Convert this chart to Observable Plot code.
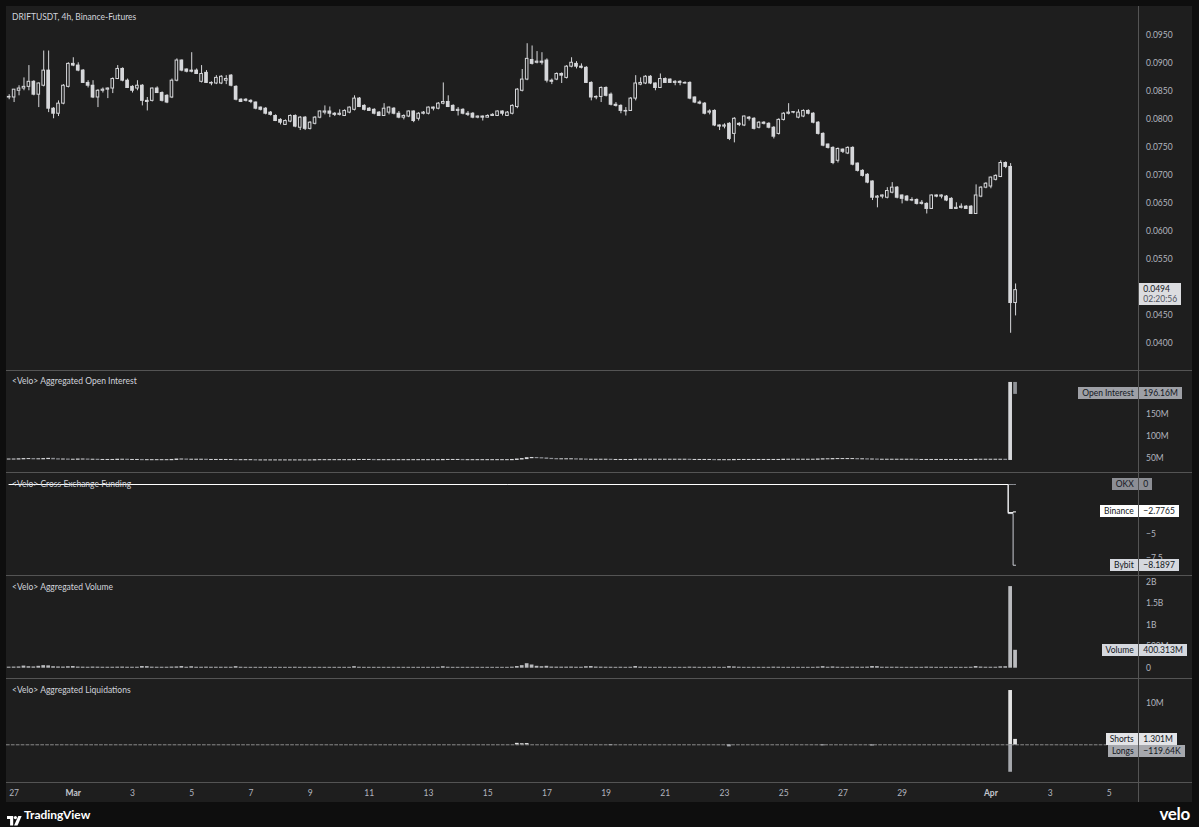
<!DOCTYPE html>
<html>
<head>
<meta charset="utf-8">
<script src="https://cdn.jsdelivr.net/npm/d3@7"></script>
<script src="https://cdn.jsdelivr.net/npm/@observablehq/plot@0.6"></script>
<style>
  html,body{margin:0;padding:0;}
  body{width:1199px;height:827px;background:#0e0e0e;position:relative;overflow:hidden;font-family:Lato,"Noto Sans",sans-serif;}
  .abs{position:absolute;}
  #frame{left:6px;top:6px;width:1186px;height:796px;background:#1e1e1e;}
  .sep{left:6px;width:1186px;height:1px;background:#545454;}
  .vsep{left:1138px;top:6px;width:1px;height:796px;background:#545454;}
  .title{color:#d1d4dc;font-size:8.5px;left:12px;white-space:nowrap;line-height:10px;}
  .lbl{font-size:8.5px;line-height:12px;height:12px;padding:0 4px;color:#131722;white-space:nowrap;box-sizing:border-box;}
  .panel{left:6px;}
  .panel svg{overflow:visible;display:block;}
</style>
</head>
<body>
<div id="frame" class="abs"></div>
<script>
// ---------------- DATA ----------------
const firstCandle = "2025-02-26T20:00:00Z";
const lastCandle = "2025-04-01T20:00:00Z";

const open = [
.0838,.0838,.0850,.0854,.0857,.0866,.0843,.0859,.0886,.0818,
.0809,.0827,.0857,.0898,.0895,.0886,.0864,.0859,.0838,.0850,
.0852,.0854,.0871,.0889,.0868,.0857,.0854,.0859,.0832,.0832,
.0854,.0846,.0841,.0838,.0868,.0904,.0888,.0886,.0886,.0866,
.0882,.0864,.0863,.0863,.0868,.0877,.0857,.0834,.0834,.0832,
.0829,.0820,.0818,.0811,.0805,.0798,.0789,.0795,.0805,.0784,
.0802,.0782,.0791,.0802,.0811,.0813,.0809,.0807,.0805,.0811,
.0816,.0836,.0823,.0818,.0816,.0811,.0805,.0811,.0818,.0809,
.0802,.0804,.0813,.0800,.0809,.0809,.0820,.0818,.0827,.0830,
.0823,.0814,.0816,.0809,.0809,.0802,.0804,.0802,.0805,.0805,
.0813,.0805,.0809,.0821,.0850,.0870,.0905,.0900,.0902,.0904,
.0868,.0870,.0880,.0873,.0893,.0898,.0893,.0891,.0864,.0838,
.0839,.0855,.0843,.0825,.0823,.0814,.0814,.0836,.0861,.0863,
.0875,.0863,.0855,.0871,.0870,.0864,.0866,.0864,.0864,.0838,
.0829,.0827,.0811,.0814,.0788,.0786,.0791,.0773,.0791,.0788,
.0802,.0800,.0784,.0793,.0791,.0784,.0773,.0798,.0809,.0811,
.0802,.0804,.0814,.0809,.0793,.0773,.0754,.0748,.0725,.0745,
.0738,.0748,.0720,.0707,.0700,.0688,.0659,.0661,.0659,.0668,
.0677,.0663,.0661,.0654,.0655,.0648,.0648,.0639,.0663,.0661,
.0661,.0657,.0639,.0641,.0643,.0643,.0630,.0661,.0677,.0679,
.0691,.0696,.0721,.0714,.0471];

const high = [
.0843,.0852,.0859,.0873,.0895,.0868,.0864,.0921,.0921,.0820,
.0832,.0861,.0900,.0909,.0900,.0888,.0868,.0868,.0852,.0855,
.0855,.0873,.0895,.0891,.0871,.0859,.0868,.0861,.0838,.0855,
.0857,.0848,.0843,.0871,.0907,.0905,.0889,.0918,.0889,.0895,
.0886,.0866,.0877,.0877,.0877,.0879,.0859,.0836,.0836,.0834,
.0830,.0821,.0820,.0813,.0807,.0800,.0798,.0807,.0807,.0804,
.0804,.0795,.0804,.0814,.0823,.0821,.0811,.0816,.0816,.0821,
.0841,.0838,.0825,.0820,.0818,.0813,.0827,.0821,.0820,.0813,
.0807,.0814,.0814,.0811,.0813,.0821,.0821,.0829,.0864,.0841,
.0825,.0820,.0818,.0813,.0811,.0805,.0805,.0807,.0809,.0814,
.0814,.0813,.0825,.0854,.0888,.0934,.0930,.0920,.0918,.0907,
.0871,.0882,.0882,.0895,.0909,.0902,.0898,.0893,.0866,.0841,
.0857,.0857,.0846,.0829,.0825,.0820,.0838,.0877,.0873,.0877,
.0877,.0864,.0880,.0873,.0871,.0868,.0868,.0866,.0866,.0839,
.0832,.0829,.0816,.0816,.0789,.0791,.0793,.0802,.0793,.0805,
.0804,.0802,.0795,.0795,.0793,.0786,.0800,.0811,.0827,.0813,
.0816,.0816,.0816,.0811,.0795,.0775,.0755,.0750,.0748,.0746,
.0750,.0750,.0721,.0709,.0702,.0689,.0663,.0664,.0677,.0686,
.0679,.0664,.0663,.0659,.0657,.0654,.0650,.0664,.0664,.0664,
.0663,.0659,.0650,.0648,.0645,.0645,.0682,.0679,.0686,.0696,
.0700,.0725,.0723,.0720,.0505];

const low = [
.0834,.0829,.0841,.0850,.0850,.0841,.0820,.0857,.0811,.0800,
.0804,.0825,.0855,.0893,.0884,.0863,.0855,.0836,.0820,.0846,
.0836,.0845,.0870,.0866,.0854,.0846,.0850,.0823,.0814,.0830,
.0845,.0830,.0827,.0836,.0866,.0884,.0882,.0882,.0879,.0864,
.0863,.0859,.0861,.0861,.0861,.0857,.0832,.0829,.0830,.0827,
.0816,.0814,.0807,.0805,.0795,.0789,.0788,.0793,.0784,.0779,
.0779,.0780,.0789,.0800,.0807,.0802,.0804,.0805,.0804,.0809,
.0814,.0820,.0814,.0813,.0807,.0804,.0804,.0807,.0807,.0800,
.0798,.0802,.0793,.0796,.0807,.0807,.0814,.0816,.0825,.0820,
.0813,.0805,.0807,.0804,.0800,.0800,.0796,.0802,.0804,.0804,
.0805,.0804,.0807,.0818,.0848,.0868,.0896,.0898,.0896,.0864,
.0861,.0868,.0863,.0871,.0891,.0889,.0889,.0863,.0832,.0834,
.0829,.0839,.0823,.0821,.0809,.0805,.0813,.0832,.0859,.0861,
.0861,.0850,.0854,.0863,.0863,.0859,.0859,.0862,.0834,.0827,
.0825,.0807,.0807,.0786,.0779,.0782,.0761,.0757,.0786,.0786,
.0796,.0780,.0782,.0789,.0782,.0764,.0771,.0796,.0807,.0809,
.0800,.0802,.0807,.0791,.0771,.0750,.0746,.0718,.0721,.0738,
.0736,.0716,.0705,.0696,.0684,.0654,.0641,.0657,.0657,.0666,
.0657,.0648,.0652,.0652,.0646,.0646,.0630,.0638,.0659,.0657,
.0652,.0638,.0638,.0639,.0638,.0629,.0629,.0659,.0675,.0675,
.0689,.0695,.0711,.0417,.0448];

const close = [
.0839,.0852,.0854,.0857,.0866,.0843,.0863,.0886,.0818,.0809,
.0827,.0859,.0898,.0895,.0886,.0864,.0859,.0838,.0850,.0852,
.0854,.0871,.0889,.0868,.0855,.0850,.0859,.0832,.0830,.0854,
.0846,.0832,.0829,.0868,.0904,.0886,.0884,.0884,.0880,.0880,
.0864,.0863,.0873,.0875,.0871,.0859,.0834,.0830,.0832,.0830,
.0818,.0816,.0809,.0807,.0796,.0793,.0796,.0805,.0786,.0802,
.0782,.0793,.0802,.0813,.0813,.0809,.0807,.0809,.0814,.0820,
.0836,.0821,.0816,.0814,.0809,.0805,.0818,.0820,.0809,.0802,
.0805,.0813,.0796,.0809,.0811,.0820,.0818,.0827,.0830,.0821,
.0814,.0816,.0809,.0807,.0802,.0804,.0802,.0805,.0807,.0813,
.0809,.0811,.0823,.0852,.0870,.0907,.0898,.0902,.0900,.0868,
.0866,.0880,.0877,.0893,.0900,.0893,.0891,.0864,.0838,.0839,
.0855,.0841,.0825,.0823,.0814,.0813,.0836,.0863,.0864,.0875,
.0863,.0855,.0871,.0864,.0864,.0866,.0864,.0863,.0836,.0829,
.0827,.0809,.0813,.0788,.0786,.0788,.0764,.0800,.0789,.0804,
.0800,.0782,.0793,.0791,.0784,.0768,.0798,.0809,.0811,.0812,
.0811,.0814,.0809,.0793,.0773,.0752,.0748,.0721,.0746,.0741,
.0748,.0718,.0707,.0698,.0686,.0659,.0661,.0663,.0671,.0677,
.0659,.0657,.0654,.0655,.0648,.0650,.0639,.0663,.0661,.0663,
.0654,.0639,.0641,.0643,.0639,.0630,.0663,.0677,.0684,.0695,
.0698,.0721,.0714,.0471,.0494];

// Aggregated open interest per candle (millions USD)
const openInterest = [
47,47,47.5,48,48,47.5,47.5,48,48.5,47.5,
47,47,46.5,46.5,47,47,46.5,46.5,46,46,
46,46,46.5,46.5,46,46,46,45.5,45.5,45.5,
45.5,45.5,45.5,46,47,47,46.5,46.5,46.5,46.5,
46,46,46,46,46,46,45.5,45.5,45.5,45.5,
45,45,45,45,45,45,45,45,45,45,
45,45,45.5,45.5,45.5,45.5,45.5,45.5,45.5,45.5,
46,46,46,46,45.5,45.5,45.5,45.5,45.5,45.5,
45.5,45.5,45.5,45.5,45.5,45.5,45.5,45.5,46,46,
46,46,45.5,45.5,45.5,45.5,45.5,45.5,45.5,45.5,
45.5,45.5,46,47,48,50,50.5,50,49.5,48.5,
48,47.5,47.5,47.5,47.5,47,47,46.5,46.5,46.5,
46.5,46.5,46,46,46,46,46,46.5,46.5,46.5,
46.5,46.5,46.5,46.5,46.5,46.5,46.5,46.5,46,46,
46,46,46,45.5,45.5,45.5,45.5,46,46,46,
46,46,46,46,46,46,46,46.5,46.5,46.5,
46.5,46.5,46.5,46.5,47,47.5,47.5,48,48,48,
48,48,47.5,47.5,47,47,46.5,46.5,46.5,46.5,
46.5,46.5,46.5,46.5,46,46,46,46,46,46,
46,46,46,46,46,46,46.5,46.5,46.5,46.5,
46.5,46.5,46,221,196.16];

// Aggregated volume per candle (millions USD)
const volume = [
10,12,15,35,20,15,30,45,40,20,
15,12,20,25,12,10,8,12,10,8,
8,8,10,12,8,8,8,25,22,10,
8,8,8,12,15,25,8,20,8,8,
10,8,8,8,8,8,22,8,6,6,
6,6,6,6,6,6,6,6,8,6,
6,6,6,6,6,6,6,6,6,6,
22,8,6,6,6,6,6,6,6,6,
6,6,6,6,6,6,6,6,20,8,
6,6,6,6,6,6,6,6,6,6,
6,6,10,25,45,90,60,30,20,30,
12,10,10,10,12,8,8,20,25,12,
10,8,8,6,8,6,8,25,10,8,
6,6,8,6,6,6,6,6,10,8,
6,6,6,10,6,6,22,15,8,6,
6,6,6,6,6,10,8,6,6,6,
6,6,6,6,10,22,8,15,8,6,
6,10,8,8,10,25,22,8,8,8,
8,6,6,6,6,6,10,8,6,6,
6,6,6,6,6,8,25,12,8,8,
8,18,20,1875,400.313];

// Cross exchange funding (step series)
const fundingTimes = ["2025-02-26T20:00:00Z","2025-04-01T12:00:00Z","2025-04-01T16:00:00Z","2025-04-01T20:00:00Z"];
const fundingOKX = [0, 0, 0, 0];
const fundingBinance = [0, 0, -2.85, -2.7765];
const fundingBybit = [0, 0, -2.95, -8.1897];

// Aggregated liquidations (millions USD)
const liqTimes = ["2025-03-16T00:00:00Z","2025-03-16T04:00:00Z","2025-03-16T08:00:00Z","2025-03-19T04:00:00Z",
  "2025-03-23T04:00:00Z","2025-03-26T08:00:00Z","2025-03-28T00:00:00Z","2025-04-01T16:00:00Z","2025-04-01T20:00:00Z"];
const liqShorts = [0.35, 0.25, 0.3, 0, 0, 0, 0, 13.05, 1.301];
const liqLongs = [0, 0, 0, -0.2, -0.5, -0.25, -0.3, -6.6, -0.11964];

// Axis ticks (only those not hidden behind the value boxes)
const xTickDates = ["2025-02-27","2025-03-01","2025-03-03","2025-03-05","2025-03-07","2025-03-09","2025-03-11",
  "2025-03-13","2025-03-15","2025-03-17","2025-03-19","2025-03-21","2025-03-23","2025-03-25","2025-03-27",
  "2025-03-29","2025-04-01","2025-04-03","2025-04-05"];
const xTickLabels = ["27","Mar","3","5","7","9","11","13","15","17","19","21","23","25","27","29","Apr","3","5"];
const priceTicks = [0.040,0.045,0.055,0.060,0.065,0.070,0.075,0.080,0.085,0.090,0.095];
const oiTicks = [50, 100, 150];
const fundingTicks = [-5, -7.5];
const volumeTicks = [0, 500, 1000, 1500, 2000];
const liqTicks = [10];

// ---------------- LAYOUT / STYLE ----------------
const HOUR = 3600e3;
const xDomain = [new Date("2025-02-26T17:50:00Z"), new Date("2025-04-06T00:05:00Z")];
const PANEL_W = 1186, MR = 53.5;
const LIGHT = "#d6d7da", GRAY = "#8f9196", BG = "#1e1e1e";
const FONT = "Lato, 'Noto Sans', sans-serif";

const candleTimes = d3.utcHour.every(4).range(new Date(firstCandle), new Date(+new Date(lastCandle) + 1));
const candles = candleTimes.map((t, i) => ({t, o: open[i], h: high[i], l: low[i], c: close[i]}));

function addPanel(top, height, yDomain, ticks, fmt, marks) {
  const p = Plot.plot({
    width: PANEL_W, height,
    marginLeft: 0, marginRight: MR, marginTop: 0, marginBottom: 0,
    style: {background: "transparent", color: "#b2b5be", fontSize: "8.5px", fontFamily: FONT},
    x: {type: "utc", domain: xDomain, axis: null},
    y: {domain: yDomain},
    marks: [
      ...marks,
      ticks ? Plot.axisY(ticks, {anchor: "right", tickSize: 0, tickPadding: 7, tickFormat: fmt, label: null}) : null
    ]
  });
  const div = document.createElement("div");
  div.className = "abs panel";
  div.style.top = top + "px";
  div.appendChild(p);
  document.body.appendChild(div);
  return p;
}
function addDiv(cls, css, html) {
  const d = document.createElement("div");
  d.className = "abs " + cls;
  Object.assign(d.style, css);
  if (html != null) d.innerHTML = html;
  document.body.appendChild(d);
  return d;
}
function pairLabel(name, value, yc, bg, fg) {
  addDiv("lbl", {right: (1199 - 1137.7) + "px", top: (yc - 6) + "px", background: bg, color: fg || "#131722"}, name);
  addDiv("lbl", {left: "1139.3px", top: (yc - 6) + "px", background: bg, color: fg || "#131722"}, value);
}
const bar = (half) => ({x1: d => new Date(+d.t - half * HOUR), x2: d => new Date(+d.t + half * HOUR)});

// ---------- Main price panel ----------
const mainTop = 6, mainH = 364;
const up = candles.filter(d => d.c >= d.o), down = candles.filter(d => d.c < d.o);
const mainPlot = addPanel(mainTop, mainH, [0.03505, 0.10005], priceTicks, d3.format(".4f"), [
  Plot.ruleX(candles, {x: "t", y1: "l", y2: "h", stroke: LIGHT, strokeWidth: 1}),
  Plot.rect(down, {...bar(1.5), y1: "o", y2: "c", fill: LIGHT, insetTop: -0.5, insetBottom: -0.5}),
  Plot.rect(up, {...bar(1.05), y1: "o", y2: "c", fill: BG, stroke: LIGHT, strokeWidth: 1})
]);
addDiv("title", {top: "12px"}, "DRIFTUSDT, 4h, Binance-Futures");
{
  const y = mainTop + mainPlot.scale("y").apply(close[close.length - 1]);
  addDiv("lbl", {left: "1139.3px", top: (y - 6.5) + "px", height: "22px", lineHeight: "10.5px", paddingTop: "0.5px",
    background: "#dcdde0", color: "#131722", width: "42px"},
    d3.format(".4f")(close[close.length - 1]) + "<br><span style='color:#50535e'>02:20:56</span>");
}

// ---------- Open interest panel ----------
const oiTop = 371, oiH = 101;
const oiRows = candleTimes.map((t, i) => ({t, o: i ? openInterest[i - 1] : openInterest[i], c: openInterest[i]}));
const oiPlot = addPanel(oiTop, oiH, [17.5, 247], oiTicks, d => d + "M", [
  Plot.rect(oiRows.filter(d => d.c >= d.o), {...bar(1.5), y1: "o", y2: "c", fill: LIGHT, insetTop: -0.5, insetBottom: -0.5}),
  Plot.rect(oiRows.filter(d => d.c < d.o), {...bar(1.5), y1: "o", y2: "c", fill: GRAY, insetTop: -0.5, insetBottom: -0.5})
]);
addDiv("title", {top: (oiTop + 5) + "px"}, "&lt;Velo&gt; Aggregated Open Interest");
pairLabel("Open Interest", "196.16M", oiTop + oiPlot.scale("y").apply(openInterest[openInterest.length - 1]), "#9ea0a6");

// ---------- Funding panel ----------
const fTop = 473, fH = 102;
const fRows = (vals) => fundingTimes.map((t, i) => ({t: new Date(t), v: vals[i]}));
const fPlot = addPanel(fTop, fH, [-9.23, 1.116], fundingTicks, d => d === 0 ? "0" : "\u2212" + Math.abs(d), [
  Plot.line(fRows(fundingBybit), {x: "t", y: "v", curve: "step", stroke: "#c9ccd3", strokeWidth: 1}),
  Plot.line(fRows(fundingOKX), {x: "t", y: "v", curve: "step", stroke: "#8c8e94", strokeWidth: 1}),
  Plot.line(fRows(fundingBinance), {x: "t", y: "v", curve: "step", stroke: "#ffffff", strokeWidth: 1})
]);
addDiv("title", {top: (fTop + 6) + "px"}, "&lt;Velo&gt; Cross Exchange Funding");
{
  const fy = fPlot.scale("y");
  pairLabel("OKX", "0", fTop + fy.apply(0), "#8c8e94");
  pairLabel("Binance", "\u22122.7765", fTop + fy.apply(-2.7765), "#ffffff");
  pairLabel("Bybit", "\u22128.1897", fTop + fy.apply(-8.1897), "#d5d8de");
}

// ---------- Volume panel ----------
const vTop = 576, vH = 102;
const vRows = candleTimes.map((t, i) => ({t, v: volume[i]}));
const vPlot = addPanel(vTop, vH, [-238.4, 2122.7], volumeTicks,
  d => d === 0 ? "0" : d >= 1000 ? (d / 1000) + "B" : d + "M", [
  Plot.rect(vRows, {...bar(1.5), y1: 0, y2: "v", fill: LIGHT, insetTop: -0.6, fillOpacity: 0.85})
]);
addDiv("title", {top: (vTop + 6) + "px"}, "&lt;Velo&gt; Aggregated Volume");
pairLabel("Volume", "400.313M", vTop + vPlot.scale("y").apply(volume[volume.length - 1]), "#d5d8de");

// ---------- Liquidations panel ----------
const lTop = 679, lH = 103;
const lRows = liqTimes.map((t, i) => ({t: new Date(t), s: liqShorts[i], l: liqLongs[i]}));
const lPlot = addPanel(lTop, lH, [-9.06, 15.7], liqTicks, d => d === 0 ? "0" : d + "M", [
  Plot.ruleY([0], {stroke: "#8a8a8a", strokeDasharray: "3.7,1.2"}),
  Plot.rect(lRows.filter(d => d.s > 0), {...bar(1.5), y1: 0, y2: "s", fill: "#e3e3e3"}),
  Plot.rect(lRows.filter(d => d.l < 0), {...bar(1.5), y1: 0, y2: "l", fill: "#a6a8ad"})
]);
addDiv("title", {top: (lTop + 6) + "px"}, "&lt;Velo&gt; Aggregated Liquidations");
{
  const ly = lPlot.scale("y");
  pairLabel("Shorts", "1.301M", lTop + ly.apply(1.301), "#e3e4e7");
  pairLabel("Longs", "\u2212119.64K", lTop + ly.apply(-0.11964) + 6, "#a6a8ad");
}

// ---------- Time axis ----------
{
  const tk = xTickDates.map((d, i) => ({d: new Date(d + "T00:00:00Z"), label: xTickLabels[i], month: /[A-Za-z]/.test(xTickLabels[i])}));
  const p = Plot.plot({
    width: PANEL_W, height: 19, marginLeft: 0, marginRight: MR, marginTop: 0, marginBottom: 0,
    style: {background: "transparent", color: "#b2b5be", fontSize: "8.5px", fontFamily: FONT},
    x: {type: "utc", domain: xDomain, axis: null},
    marks: [
      Plot.text(tk.filter(d => !d.month), {x: "d", text: "label", frameAnchor: "middle", fill: "#b2b5be"}),
      Plot.text(tk.filter(d => d.month), {x: "d", text: "label", frameAnchor: "middle", fill: "#c3c6ce", fontWeight: "bold"})
    ]
  });
  const div = document.createElement("div");
  div.className = "abs panel";
  div.style.top = "783px";
  div.appendChild(p);
  document.body.appendChild(div);
}

// separators
[370, 472, 575, 678, 782].forEach(y => addDiv("sep", {top: y + "px"}));
addDiv("vsep", {});

// footer
addDiv("", {left: "7px", top: "810px", width: "15px", height: "10px"},
  "<svg width='15' height='10' viewBox='0 0 15 10'><path d='M0 0h6.2v9.5h-3.1v-6.4H0z' fill='#fff'/><circle cx='8.4' cy='1.6' r='1.6' fill='#fff'/><path d='M11.3 0h3.4l-4.2 9.5H7.1z' fill='#fff'/></svg>");
addDiv("", {left: "24px", top: "808px", color: "#ffffff", fontFamily: "Lato, sans-serif", fontWeight: "700", fontSize: "12px", lineHeight: "14px"}, "TradingView");
addDiv("", {right: "9px", top: "804px", color: "#ffffff", fontFamily: "Lato, sans-serif", fontWeight: "700", fontSize: "17px", lineHeight: "20px", letterSpacing: "-0.3px"}, "velo");
</script>
</body>
</html>
